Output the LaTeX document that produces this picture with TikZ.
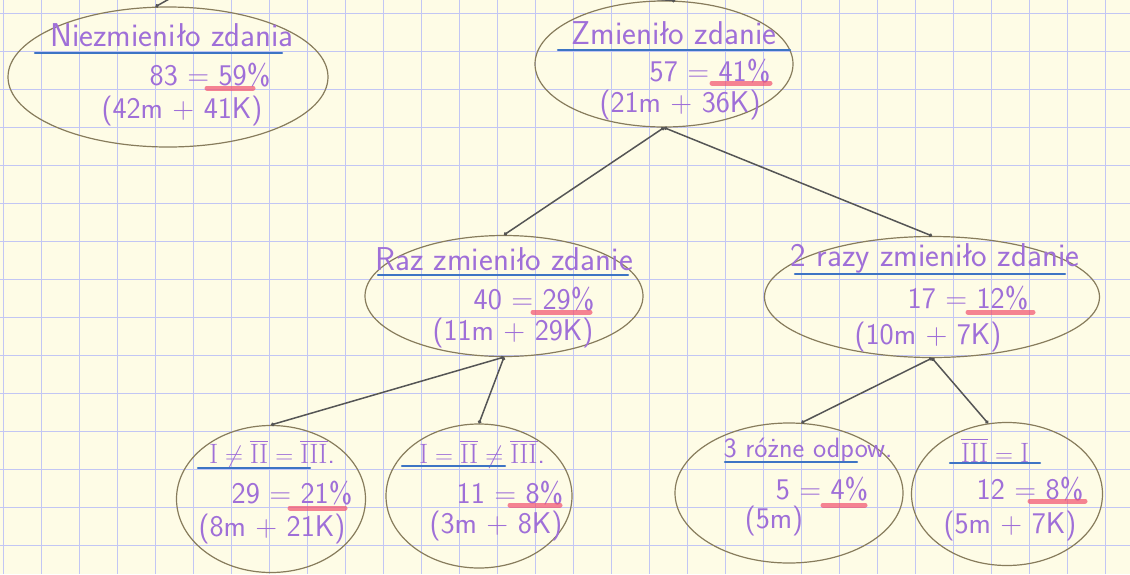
\documentclass[tikz,border=0pt]{standalone}
\usepackage{fontspec}
\usepackage{amsmath}
\usetikzlibrary{shapes.geometric,arrows.meta,positioning,calc}
\definecolor{paper}{HTML}{FEFCE6}
\definecolor{gridc}{HTML}{C2C6F4}
\definecolor{inkc}{HTML}{9F6FD8}
\definecolor{bluec}{HTML}{3D74C4}
\definecolor{redc}{HTML}{F2506E}
\definecolor{ovalc}{HTML}{877C5C}
\definecolor{linkc}{HTML}{555555}
\newcommand{\rI}{\mathrm{I}}
\newcommand{\rII}{\overline{\mathrm{II}}}
\newcommand{\rIII}{\overline{\mathrm{III}}}

\begin{document}
\begin{tikzpicture}[
    x=1pt, y=-1pt,
    % Estilos
    oval/.style={draw=ovalc, line width=1.2pt, ellipse, inner sep=0pt},
    hand/.style={font=\fontsize{30}{34}\selectfont\sffamily, text=inkc, inner sep=0pt},
    ttl/.style={hand, font=\fontsize{33}{37}\selectfont\sffamily},
    ttlb/.style={hand, font=\fontsize{28}{32}\selectfont\sffamily},
    ul/.style={draw=bluec, line width=2.4pt, line cap=round},
    pct/.style={draw=redc, line width=5pt, opacity=.7, line cap=round},
    link/.style={draw=linkc, line width=1.5pt, {Circle[length=3.5pt]}-{Circle[length=3.5pt]}},
    gridl/.style={draw=gridc, line width=0.7pt}
]

% --- PAPEL ---
\useasboundingbox (0,0) rectangle (1130,574);
\clip (0,0) rectangle (1130,574);
\fill[paper] (0,0) rectangle (1130,574);
\foreach \i in {0,...,29} \draw[gridl] (3.5+38*\i,0) -- (3.5+38*\i,574);
\foreach \j in {0,...,15} \draw[gridl] (0,13+38*\j) -- (1130,13+38*\j);

% --- ÓVALOS ---
\node[oval, minimum width=320pt, minimum height=140pt] (nz)  at (168,77)  {};
\node[oval, minimum width=258pt, minimum height=126pt] (zm)  at (664,64)  {};
\node[oval, minimum width=278pt, minimum height=121pt] (raz) at (504,296) {};
\node[oval, minimum width=335pt, minimum height=121pt] (dwa) at (932,297) {};
\node[oval, minimum width=189pt, minimum height=147pt] (a1)  at (271,499) {};
\node[oval, minimum width=186pt, minimum height=144pt] (a2)  at (479,496) {};
\node[oval, minimum width=228pt, minimum height=140pt] (b1)  at (789,493) {};
\node[oval, minimum width=191pt, minimum height=143pt] (b2)  at (1007,494) {};

% --- TEXTOS ---
\node[ttl]  (nzT) at (172,35)  {Niezmieniło zdania};
\node[hand] (nzN) at (210,75)  {83 = 59\%};
\node[hand] (nzM) at (182,111) {(42m + 41K)};

\node[ttl]  (zmT) at (674,33)  {Zmieniło zdanie};
\node[hand] (zmN) at (710,71)  {57 = 41\%};
\node[hand] (zmM) at (680,105) {(21m + 36K)};

\node[ttl]  (razT) at (504,259) {Raz zmieniło zdanie};
\node[hand] (razN) at (534,299) {40 = 29\%};
\node[hand] (razM) at (513,333) {(11m + 29K)};

\node[ttl]  (dwaT) at (935,258) {2 razy zmieniło zdanie};
\node[hand] (dwaN) at (968,298) {17 = 12\%};
\node[hand] (dwaM) at (928,337) {(10m + 7K)};

\node[ttlb] (a1T) at (272,454) {$\rI\neq\rII=\rIII$.};
\node[hand] (a1N) at (292,493) {29 = 21\%};
\node[hand] (a1M) at (272,529) {(8m + 21K)};

\node[ttlb] (a2T) at (482,454) {$\rI=\rII\neq\rIII$.};
\node[hand] (a2N) at (510,493) {11 = 8\%};
\node[hand] (a2M) at (496,526) {(3m + 8K)};

\node[ttlb] (b1T) at (808,451) {3 różne odpow.};
\node[hand] (b1N) at (822,489) {5 = 4\%};
\node[hand] (b1M) at (774,521) {(5m)};

\node[ttlb] (b2T) at (995,450) {$\rIII=\rI$};
\node[hand] (b2N) at (1030,489) {12 = 8\%};
\node[hand] (b2M) at (1010,526) {(5m + 7K)};

% --- SUBRAYADOS ---
\draw[ul] (35,53) -- (282,53);
\draw[ul] (558,50) -- (790,50);
\draw[ul] (378,275) -- (628,275);
\draw[ul] (795,274) -- (1065,274);
\draw[ul] (198,468) -- (310,468);
\draw[ul] (402,466) -- (505,466);
\draw[ul] (725,462) -- (857,462);
\draw[ul] (950,463) -- (1040,463);

\draw[pct] (207,88) -- (253,88);
\draw[pct] (712,83) -- (770,83);
\draw[pct] (533,312) -- (590,312);
\draw[pct] (968,312) -- (1033,312);
\draw[pct] (290,508) -- (345,508);
\draw[pct] (510,505) -- (560,505);
\draw[pct] (823,505) -- (865,505);
\draw[pct] (1030,501) -- (1085,501);

% --- CONEXIONES ---
\coordinate (up1) at (203,-20);
\coordinate (up2) at (363,-20);
\draw[link, -{Circle[length=3.5pt]}] (up1) -- (nz.100);
\draw[link, -{Circle[length=3.5pt]}] (up2) -- (zm.80);
\draw[link] (zm.south) -- (raz.north);
\draw[link] (zm.south) -- (dwa.north);
\draw[link] (raz.south) -- (a1.north);
\draw[link] (raz.south) -- (a2.north);
\draw[link] (dwa.south) -- (b1.80);
\draw[link] (dwa.south) -- (b2.105);

\end{tikzpicture}
\end{document}
